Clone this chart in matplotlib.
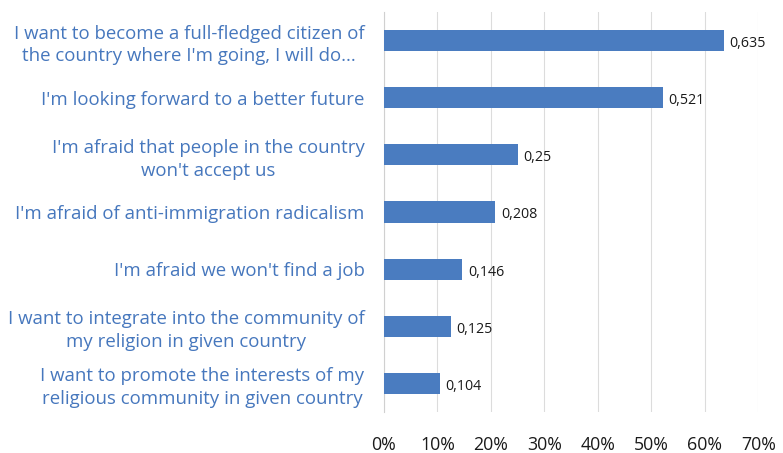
import matplotlib
matplotlib.use("Agg")
import matplotlib.pyplot as plt
from matplotlib.ticker import FuncFormatter, MultipleLocator

categories = [
    "I want to become a full-fledged citizen of\nthe country where I'm going, I will do...",
    "I'm looking forward to a better future",
    "I'm afraid that people in the country\nwon't accept us",
    "I'm afraid of anti-immigration radicalism",
    "I'm afraid we won't find a job",
    "I want to integrate into the community of\nmy religion in given country",
    "I want to promote the interests of my\nreligious community in given country",
]
values = [0.635, 0.521, 0.25, 0.208, 0.146, 0.125, 0.104]
value_labels = ["0,635", "0,521", "0,25", "0,208", "0,146", "0,125", "0,104"]

plt.rcParams["font.family"] = ["Open Sans", "DejaVu Sans"]

fig = plt.figure(figsize=(7.83, 4.53), dpi=100)
ax = fig.add_axes([0.4904, 0.0905, 0.478, 0.883])

n = len(categories)
ypos = list(range(n))[::-1]
ax.barh(ypos, values, height=0.37, color="#4a7cc0", zorder=3)

for y, v, lab in zip(ypos, values, value_labels):
    ax.text(v + 0.011, y - 0.05, lab, va="center", ha="left",
            fontsize=10.3, color="#1a1a1a", zorder=4)

ax.set_xlim(0, 0.70)
ax.set_ylim(-0.5, n - 0.5)
ax.xaxis.set_major_locator(MultipleLocator(0.1))
ax.xaxis.set_major_formatter(FuncFormatter(lambda x, p: f"{round(x * 100)}%"))
ax.grid(axis="x", color="#dcdcdc", linewidth=0.8, zorder=0)

ax.set_yticks(ypos)
ax.set_yticklabels(categories, fontsize=13.4, color="#4677bd",
                   multialignment="center", linespacing=1.35)
ax.tick_params(axis="y", length=0, pad=14)
ax.tick_params(axis="x", length=0, pad=17, labelsize=12.8, labelcolor="#1a1a1a")

for s in ["top", "right", "bottom"]:
    ax.spines[s].set_visible(False)
ax.spines["left"].set_color("#d0d0d0")
ax.spines["left"].set_linewidth(0.8)

fig.savefig("out.png", dpi=100, facecolor="white")
